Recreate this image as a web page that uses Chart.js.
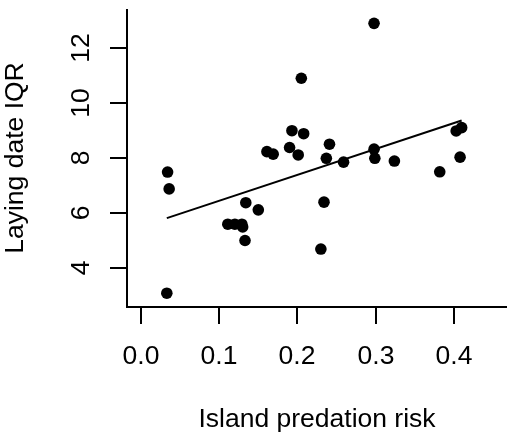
<!DOCTYPE html>
<html>
<head>
<meta charset="utf-8">
<script src="https://cdn.jsdelivr.net/npm/chart.js@4/dist/chart.umd.min.js"></script>
<style>
  html, body { margin: 0; padding: 0; background: #ffffff; }
  #wrap { width: 507px; height: 435px; }
</style>
</head>
<body>
<div id="wrap"><canvas id="c" width="507" height="435"></canvas></div>
<script>
// ---- data ----
const predationRisk = [0.034, 0.036, 0.033, 0.111, 0.120, 0.129, 0.130, 0.133, 0.134, 0.150,
                       0.161, 0.169, 0.190, 0.193, 0.201, 0.205, 0.208, 0.298, 0.241, 0.237,
                       0.259, 0.234, 0.230, 0.298, 0.299, 0.324, 0.382, 0.403, 0.410, 0.408];
const layingIQR    = [7.49, 6.88, 3.10, 5.60, 5.60, 5.60, 5.50, 5.01, 6.38, 6.12,
                      8.23, 8.14, 8.38, 8.99, 8.11, 10.89, 8.88, 12.88, 8.50, 7.99,
                      7.85, 6.40, 4.70, 8.32, 7.99, 7.89, 7.50, 8.98, 9.10, 8.03];
const fitX = [0.033, 0.410];
const fitY = [5.82, 9.36];
const xTicks = [0.0, 0.1, 0.2, 0.3, 0.4];
const xTickLabels = ["0.0", "0.1", "0.2", "0.3", "0.4"];
const yTicks = [4, 6, 8, 10, 12];
const yTickLabels = ["4", "6", "8", "10", "12"];
const xTitle = "Island predation risk";
const yTitle = "Laying date IQR";

const points = predationRisk.map((x, i) => ({ x: x, y: layingIQR[i] }));
const fitLine = fitX.map((x, i) => ({ x: x, y: fitY[i] }));

const FONT = '"Liberation Sans", Arial, Helvetica, sans-serif';

const rAxes = {
  id: 'rAxes',
  afterDraw(chart) {
    const ctx = chart.ctx;
    const a = chart.chartArea;
    const xs = chart.scales.x, ys = chart.scales.y;
    ctx.save();
    ctx.strokeStyle = '#000';
    ctx.lineWidth = 2;
    ctx.lineCap = 'butt';
    // L-shaped box
    ctx.beginPath();
    ctx.moveTo(a.left, a.top);
    ctx.lineTo(a.left, a.bottom);
    ctx.lineTo(chart.width, a.bottom);
    ctx.stroke();
    // x ticks
    ctx.fillStyle = '#000';
    ctx.font = '26.5px ' + FONT;
    ctx.textAlign = 'center';
    ctx.textBaseline = 'middle';
    xTicks.forEach((v, i) => {
      const px = Math.round(xs.getPixelForValue(v));
      ctx.beginPath();
      ctx.moveTo(px, a.bottom);
      ctx.lineTo(px, a.bottom + 17);
      ctx.stroke();
      ctx.fillText(xTickLabels[i], px, a.bottom + 50);
    });
    // y ticks
    yTicks.forEach((v, i) => {
      const py = Math.round(ys.getPixelForValue(v));
      ctx.beginPath();
      ctx.moveTo(a.left, py);
      ctx.lineTo(a.left - 17, py);
      ctx.stroke();
      ctx.save();
      ctx.translate(a.left - 45, py);
      ctx.rotate(-Math.PI / 2);
      ctx.fillText(yTickLabels[i], 0, 0);
      ctx.restore();
    });
    // titles
    ctx.fillText(xTitle, 317, a.bottom + 113);
    ctx.save();
    ctx.translate(16, (a.top + a.bottom) / 2);
    ctx.rotate(-Math.PI / 2);
    ctx.fillText(yTitle, 0, 0);
    ctx.restore();
    ctx.restore();
  }
};

new Chart(document.getElementById('c'), {
  type: 'scatter',
  data: {
    datasets: [
      {
        type: 'line',
        data: fitLine,
        borderColor: '#000',
        borderWidth: 2,
        pointRadius: 0,
        fill: false,
        tension: 0,
        clip: false
      },
      {
        data: points,
        backgroundColor: '#000',
        borderColor: '#000',
        borderWidth: 0,
        pointRadius: 5.8,
        pointHoverRadius: 5.8,
        clip: false
      }
    ]
  },
  options: {
    responsive: false,
    animation: false,
    events: [],
    layout: { autoPadding: false, padding: { left: 127, right: 0, top: 9, bottom: 128 } },
    plugins: { legend: { display: false }, tooltip: { enabled: false } },
    scales: {
      x: { type: 'linear', display: false, min: -0.0179, max: 0.468 },
      y: { type: 'linear', display: false, min: 2.60, max: 13.40 }
    }
  },
  plugins: [rAxes]
});
</script>
</body>
</html>
